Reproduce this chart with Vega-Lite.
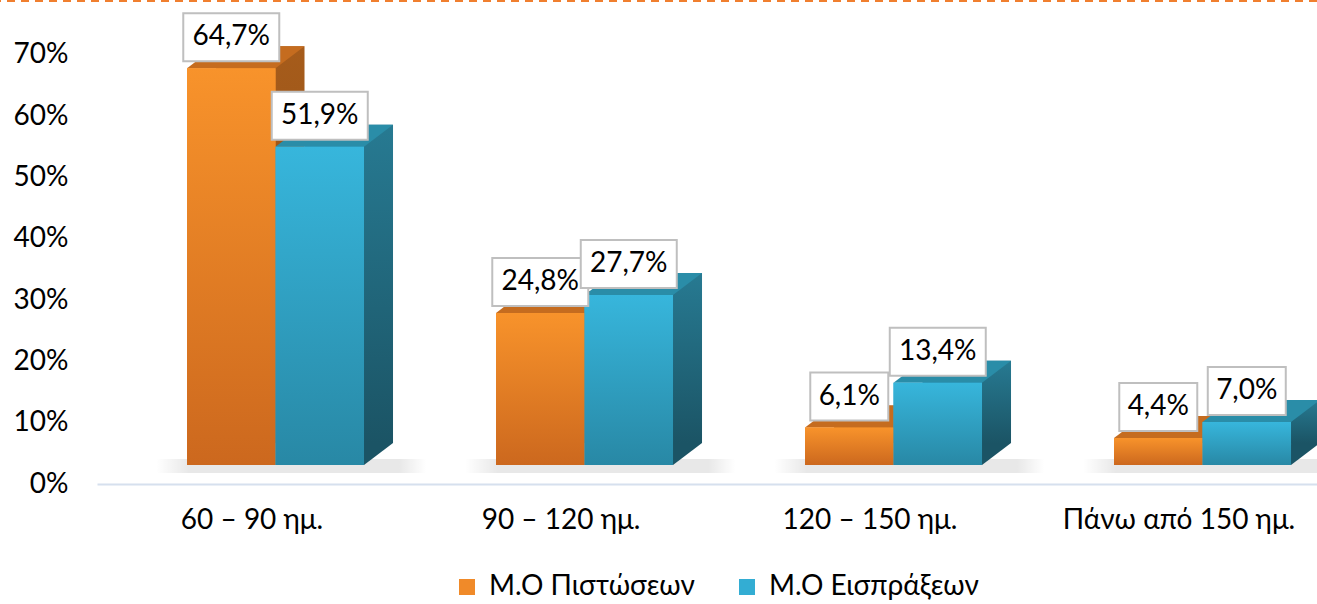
{
  "$schema": "https://vega.github.io/schema/vega-lite/v6.json",
  "autosize": {"type": "none"},
  "padding": {"left": 0, "top": 1, "right": 0, "bottom": 120},
  "width": 1317,
  "height": 483,
  "background": "white",
  "config": {
    "view": {"stroke": null},
    "font": "Lato",
    "locale": {"number": {"decimal": ",", "thousands": ".", "grouping": [3], "currency": ["", " €"]}}
  },
  "data": {
    "values": [
      {"cat": "60 – 90 ημ.", "series": "Μ.Ο Πιστώσεων", "value": 0.647},
      {"cat": "60 – 90 ημ.", "series": "Μ.Ο Εισπράξεων", "value": 0.519},
      {"cat": "90 – 120 ημ.", "series": "Μ.Ο Πιστώσεων", "value": 0.248},
      {"cat": "90 – 120 ημ.", "series": "Μ.Ο Εισπράξεων", "value": 0.277},
      {"cat": "120 – 150 ημ.", "series": "Μ.Ο Πιστώσεων", "value": 0.061},
      {"cat": "120 – 150 ημ.", "series": "Μ.Ο Εισπράξεων", "value": 0.134},
      {"cat": "Πάνω από 150 ημ.", "series": "Μ.Ο Πιστώσεων", "value": 0.044},
      {"cat": "Πάνω από 150 ημ.", "series": "Μ.Ο Εισπράξεων", "value": 0.070}
    ]
  },
  "resolve": {"scale": {"xOffset": "independent"}},
  "encoding": {
    "x": {
      "field": "cat", "type": "nominal", "sort": null,
      "scale": {"range": [97, 1317], "paddingInner": 0.4272, "paddingOuter": 0.1877, "align": 0.776},
      "axis": {"title": null, "labelAngle": 0, "ticks": false, "domainColor": "#D6E0EE", "domainWidth": 2,
               "labelFontSize": 28, "labelColor": "#000000", "labelPadding": 22, "labelOffset": -23.5, "labelLimit": 400, "labelFont": "Lato"}
    },
    "y": {
      "field": "value", "type": "quantitative",
      "scale": {"domain": [0, 0.7875], "nice": false, "zero": true},
      "axis": {"title": null, "format": ".0%", "values": [0, 0.1, 0.2, 0.3, 0.4, 0.5, 0.6, 0.7], "grid": false,
               "domain": false, "ticks": false, "tickSize": 0, "labelPadding": -68, "labelAlign": "right",
               "labelFontSize": 28, "labelColor": "#000000", "labelFont": "Lato"}
    }
  },
  "layer": [
    {
      "transform": [{"filter": "datum.series === 'Μ.Ο Πιστώσεων'"}],
      "mark": {"type": "point", "filled": true, "opacity": 1, "size": 4, "strokeWidth": 0, "yOffset": -19,
               "shape": "M-75,-6H195V8H-75Z",
               "fill": {"gradient": "linear", "x1": 0, "y1": 0, "x2": 1, "y2": 0,
                        "stops": [{"offset": 0, "color": "rgba(0,0,0,0)"}, {"offset": 0.12, "color": "rgba(0,0,0,0.09)"}, {"offset": 0.9, "color": "rgba(0,0,0,0.09)"}, {"offset": 1, "color": "rgba(0,0,0,0)"}]}},
      "encoding": {
        "xOffset": {"field": "series", "type": "nominal", "sort": ["Μ.Ο Πιστώσεων", "Μ.Ο Εισπράξεων"], "scale": {"domain": ["Μ.Ο Πιστώσεων", "Μ.Ο Εισπράξεων"]}},
        "y": {"datum": 0}
      }
    },
    {
      "mark": {"type": "bar", "yOffset": -41},
      "encoding": {
        "xOffset": {"field": "series", "type": "nominal", "sort": ["Μ.Ο Πιστώσεων", "Μ.Ο Εισπράξεων"], "scale": {"range": [29, 206]}},
        "fill": {
          "condition": {"test": "datum.series === 'Μ.Ο Πιστώσεων'",
            "value": {"gradient": "linear", "x1": 0, "y1": 0, "x2": 0, "y2": 1, "stops": [{"offset": 0, "color": "#A65C1B"}, {"offset": 1, "color": "#8C4A14"}]}},
          "value": {"gradient": "linear", "x1": 0, "y1": 0, "x2": 0, "y2": 1, "stops": [{"offset": 0, "color": "#277A92"}, {"offset": 1, "color": "#1B5465"}]}
        }
      }
    },
    {
      "mark": {"type": "point", "filled": true, "opacity": 1, "size": 4, "strokeWidth": 0, "yOffset": -19,
               "shape": "M44.25,0L73.25,-22L44.25,-22Z"},
      "encoding": {
        "xOffset": {"field": "series", "type": "nominal", "sort": ["Μ.Ο Πιστώσεων", "Μ.Ο Εισπράξεων"]},
        "y": {"datum": 0},
        "fill": {"condition": {"test": "datum.series === 'Μ.Ο Πιστώσεων'", "value": "#8C4A14"}, "value": "#1B5465"}
      }
    },
    {
      "mark": {"type": "point", "filled": true, "opacity": 1, "size": 4, "strokeWidth": 0, "yOffset": -19,
               "shape": "M-44.25,0L44.25,0L73.25,-22L-15.25,-22Z"},
      "encoding": {
        "xOffset": {"field": "series", "type": "nominal", "sort": ["Μ.Ο Πιστώσεων", "Μ.Ο Εισπράξεων"]},
        "fill": {"condition": {"test": "datum.series === 'Μ.Ο Πιστώσεων'", "value": "#C56C1F"}, "value": "#2A8DA8"}
      }
    },
    {
      "mark": {"type": "bar", "yOffset": -19},
      "encoding": {
        "xOffset": {"field": "series", "type": "nominal", "sort": ["Μ.Ο Πιστώσεων", "Μ.Ο Εισπράξεων"]},
        "color": {
          "field": "series", "type": "nominal",
          "scale": {"domain": ["Μ.Ο Πιστώσεων", "Μ.Ο Εισπράξεων"], "range": ["#F08A29", "#33ADD3"]},
          "legend": {"title": null, "orient": "none", "legendX": 453, "legendY": 572, "direction": "horizontal",
                     "symbolType": "square", "symbolSize": 256, "symbolStrokeWidth": 0, "labelFontSize": 28,
                     "labelFont": "Lato", "labelColor": "#000000", "labelOffset": 8, "columnPadding": 38, "labelLimit": 400, "padding": 0}
        }
      }
    },
    {
      "mark": {"type": "bar", "yOffset": -19},
      "encoding": {
        "xOffset": {"field": "series", "type": "nominal", "sort": ["Μ.Ο Πιστώσεων", "Μ.Ο Εισπράξεων"]},
        "fill": {
          "condition": {"test": "datum.series === 'Μ.Ο Πιστώσεων'",
            "value": {"gradient": "linear", "x1": 0, "y1": 0, "x2": 0, "y2": 1, "stops": [{"offset": 0, "color": "#F8932B"}, {"offset": 1, "color": "#CC681E"}]}},
          "value": {"gradient": "linear", "x1": 0, "y1": 0, "x2": 0, "y2": 1, "stops": [{"offset": 0, "color": "#37B6DC"}, {"offset": 1, "color": "#2888A5"}]}
        }
      }
    },
    {
      "mark": {"type": "point", "filled": true, "opacity": 1, "size": 4, "fill": "#FFFFFF", "stroke": "#BFBFBF", "strokeWidth": 2, "yOffset": -50},
      "encoding": {
        "xOffset": {"field": "series", "type": "nominal", "sort": ["Μ.Ο Πιστώσεων", "Μ.Ο Εισπράξεων"]},
        "shape": {"condition": {"test": "datum.value >= 0.1", "value": "M-48,-24H48V24H-48Z"}, "value": "M-39,-24H39V24H-39Z"}
      }
    },
    {
      "mark": {"type": "text", "yOffset": -50, "align": "center", "baseline": "middle", "fontSize": 28, "font": "Lato", "color": "#000000"},
      "encoding": {
        "xOffset": {"field": "series", "type": "nominal", "sort": ["Μ.Ο Πιστώσεων", "Μ.Ο Εισπράξεων"]},
        "text": {"field": "value", "type": "quantitative", "format": ".1%"}
      }
    },
    {
      "mark": {"type": "rule", "color": "#F07F2F", "strokeWidth": 2, "strokeDash": [8, 6]},
      "encoding": {"y": {"datum": 0.7875}, "x": null}
    }
  ]
}
